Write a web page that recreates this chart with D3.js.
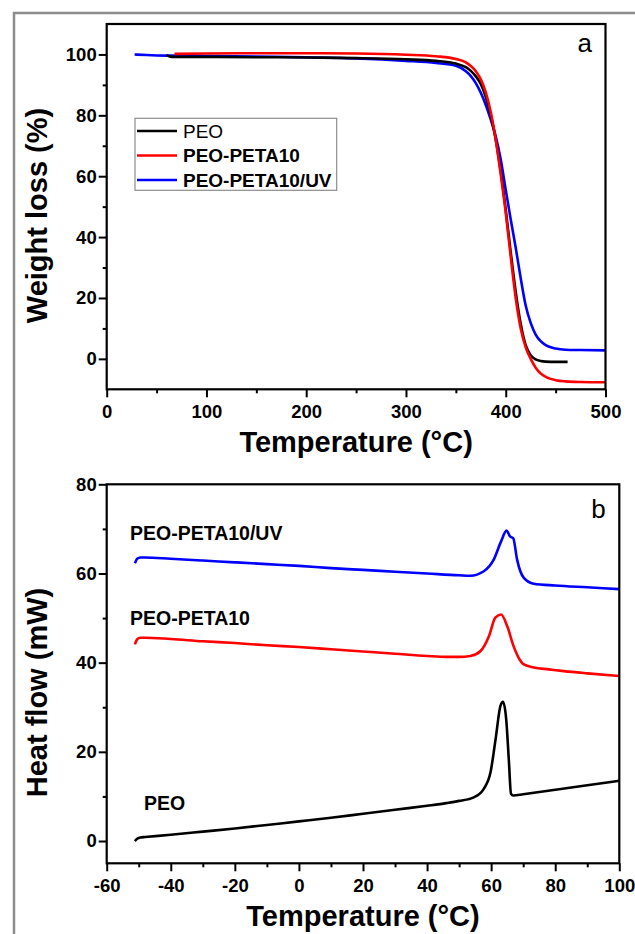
<!DOCTYPE html>
<html>
<head>
<meta charset="utf-8">
<script src="https://cdn.jsdelivr.net/npm/d3@7"></script>
<style>
  body { margin: 0; background: #fff; }
  text { font-family: "Liberation Sans", Arial, sans-serif; }
</style>
</head>
<body>
<div id="chart"></div>
<script>
// SVG height and width
var svgWidth = 635;
var svgHeight = 934;

// ---- Panel a : TGA data ----
var tgaPeoTemp = [60, 65, 100, 150, 200, 250, 300, 330, 350, 360, 365, 370, 375, 380, 385, 390, 395, 400, 405, 410, 415, 420, 425, 430, 435, 440, 450, 462];
var tgaPeoVal = [99.8, 99.2, 99.2, 99.1, 99.0, 98.8, 98.4, 97.9, 97.0, 95.8, 94.6, 92.8, 90.3, 86.0, 80.0, 72.0, 61.5, 49.0, 35.0, 22.0, 11.5, 4.5, 1.2, -0.2, -0.7, -0.9, -1.0, -1.0];

var tgaPetaTemp = [68, 100, 150, 200, 250, 300, 330, 350, 360, 365, 370, 375, 380, 385, 390, 395, 400, 405, 410, 415, 420, 425, 430, 435, 440, 450, 460, 475, 500];
var tgaPetaVal = [100.2, 100.3, 100.4, 100.4, 100.3, 99.9, 99.4, 98.5, 97.4, 96.2, 94.5, 91.8, 87.5, 81.0, 72.0, 60.5, 48.0, 33.5, 20.0, 10.0, 3.8, 0.0, -2.9, -4.8, -5.9, -7.0, -7.4, -7.6, -7.7];

var tgaUvTemp = [28, 40, 60, 100, 150, 200, 250, 300, 330, 350, 360, 365, 370, 375, 380, 385, 390, 395, 400, 405, 410, 415, 420, 425, 430, 435, 440, 450, 460, 475, 500];
var tgaUvVal = [100.0, 99.8, 99.6, 99.5, 99.3, 99.1, 98.7, 97.9, 97.2, 96.3, 94.5, 92.9, 90.6, 87.4, 83.4, 78.6, 73.0, 65.5, 55.5, 45.8, 36.5, 26.5, 17.5, 11.8, 8.0, 5.8, 4.5, 3.4, 3.0, 2.9, 2.8];

// ---- Panel b : DSC data ----
var dscPeoTemp = [-51.2, -50.5, -49.5, -48, -40, -30, -20, -10, 0, 10, 20, 30, 40, 46, 50, 54.6, 57.7, 59.8, 61.4, 62.9, 63.7, 64.7, 65.5, 66.2, 66.9, 70, 80, 90, 100];
var dscPeoVal = [0, 0.5, 0.8, 0.9, 1.4, 2.1, 2.8, 3.6, 4.4, 5.2, 6.1, 7.0, 7.9, 8.5, 9.0, 9.8, 11.7, 15.4, 22.9, 30.3, 31.2, 27.3, 18.4, 10.6, 10.2, 10.5, 11.5, 12.5, 13.5];

var dscPetaTemp = [-51.2, -50.5, -49.5, -48, -40, -30, -20, -10, 0, 10, 20, 30, 40, 46, 50, 53.5, 56.7, 59.3, 61.3, 63.1, 65, 67, 68.5, 70.2, 73.3, 78, 82.7, 90, 100];
var dscPetaVal = [44.1, 45.2, 45.6, 45.6, 45.3, 44.8, 44.4, 43.9, 43.5, 43.0, 42.5, 42.0, 41.5, 41.3, 41.3, 41.5, 42.6, 45.9, 50.1, 50.8, 48.2, 43.7, 41.2, 39.6, 38.9, 38.5, 38.1, 37.6, 37.0];

var dscUvTemp = [-51.2, -50.5, -49.5, -48, -40, -30, -20, -10, 0, 10, 20, 30, 40, 50, 53.5, 57.7, 60.8, 63.1, 64.8, 65.4, 65.8, 66.9, 68.1, 70.2, 73.3, 80, 90, 100];
var dscUvVal = [62.3, 63.3, 63.6, 63.6, 63.3, 62.9, 62.5, 62.1, 61.7, 61.2, 60.8, 60.4, 60.0, 59.6, 59.5, 60.5, 63.1, 67.2, 69.6, 69.0, 68.4, 67.9, 63.1, 59.0, 57.7, 57.3, 56.9, 56.5];

// Legend / labels
var legendNames = ["PEO", "PEO-PETA10", "PEO-PETA10/UV"];
var seriesColors = ["#000000", "#ff0000", "#0000ff"];

var fontFamily = '"Liberation Sans", Arial, sans-serif';

// SVG wrapper
var svg = d3.select("#chart")
  .append("svg")
  .attr("width", svgWidth)
  .attr("height", svgHeight);

svg.append("rect")
  .attr("width", svgWidth)
  .attr("height", svgHeight)
  .attr("fill", "#fff");

// Gray outer frame (runs off right and bottom edges)
svg.append("rect")
  .attr("x", 14)
  .attr("y", 13)
  .attr("width", 700)
  .attr("height", 1000)
  .attr("fill", "none")
  .attr("stroke", "#8c8c8c")
  .attr("stroke-width", 2.5);

// plain hyphen for negative numbers
var plainFormat = d => String(d);

// Draw one framed panel with axes, returns scales
function drawPanel(p) {
  var g = svg.append("g");

  var x = d3.scaleLinear().domain(p.xDomain).range([p.left, p.right]);
  var y = d3.scaleLinear().domain(p.yDomain).range([p.bottom, p.top]);

  // minor ticks
  g.append("g")
    .attr("transform", `translate(0, ${p.bottom})`)
    .call(d3.axisBottom(x).tickValues(p.xMinor).tickSize(4).tickSizeOuter(0).tickFormat(""))
    .call(a => a.select(".domain").remove());
  g.append("g")
    .attr("transform", `translate(${p.left}, 0)`)
    .call(d3.axisLeft(y).tickValues(p.yMinor).tickSize(4).tickSizeOuter(0).tickFormat(""))
    .call(a => a.select(".domain").remove());

  // major ticks
  var xAxis = g.append("g")
    .attr("transform", `translate(0, ${p.bottom})`)
    .call(d3.axisBottom(x).tickValues(p.xTicks).tickFormat(plainFormat).tickSize(8).tickPadding(7.5).tickSizeOuter(0))
    .call(a => a.select(".domain").remove());
  var yAxis = g.append("g")
    .attr("transform", `translate(${p.left}, 0)`)
    .call(d3.axisLeft(y).tickValues(p.yTicks).tickFormat(plainFormat).tickSize(8).tickPadding(2).tickSizeOuter(0))
    .call(a => a.select(".domain").remove());

  [xAxis, yAxis].forEach(function(a) {
    a.selectAll("text")
      .attr("fill", "#000")
      .style("font-family", fontFamily)
      .style("font-size", "18.5px")
      .style("font-weight", "bold");
  });
  g.selectAll("line").attr("stroke", "#000").attr("stroke-width", 2);

  // Axis titles
  g.append("text")
    .attr("x", (p.left + p.right) / 2)
    .attr("y", p.xTitleY)
    .attr("text-anchor", "middle")
    .style("font-size", "29px")
    .style("font-weight", "bold")
    .text("Temperature (°C)");

  g.append("text")
    .attr("transform", `translate(47, ${p.yTitleCenter}) rotate(-90)`)
    .attr("text-anchor", "middle")
    .style("font-size", "29px")
    .style("font-weight", "bold")
    .text(p.yTitle);

  // Panel letter
  g.append("text")
    .attr("x", p.right - 28)
    .attr("y", p.letterY)
    .style("font-size", "26px")
    .text(p.letter);

  var plot = g.append("g");

  // Frame drawn last, over the curves
  g.append("rect")
    .attr("x", p.left)
    .attr("y", p.top)
    .attr("width", p.right - p.left)
    .attr("height", p.bottom - p.top)
    .attr("fill", "none")
    .attr("stroke", "#000")
    .attr("stroke-width", 2.2);

  return { x: x, y: y, plot: plot };
}

function drawLine(panel, temps, vals, color) {
  var pts = temps.map((t, i) => [t, vals[i]]);
  var line = d3.line()
    .x(d => panel.x(d[0]))
    .y(d => panel.y(d[1]))
    .curve(d3.curveMonotoneX);
  panel.plot.append("path")
    .datum(pts)
    .attr("d", line)
    .attr("fill", "none")
    .attr("stroke", color)
    .attr("stroke-width", 2.6)
    .attr("stroke-linejoin", "round");
}

// ---- Panel a ----
var panelA = drawPanel({
  left: 106.7, right: 605.5, top: 24, bottom: 389.3,
  xDomain: [0, 500], yDomain: [-10, 110],
  xTicks: [0, 100, 200, 300, 400, 500], xMinor: [50, 150, 250, 350, 450],
  yTicks: [0, 20, 40, 60, 80, 100], yMinor: [10, 30, 50, 70, 90],
  xTitleY: 452, yTitleCenter: 215.5, yTitle: "Weight loss (%)",
  letter: "a", letterY: 52
});

drawLine(panelA, tgaUvTemp, tgaUvVal, seriesColors[2]);
drawLine(panelA, tgaPeoTemp, tgaPeoVal, seriesColors[0]);
drawLine(panelA, tgaPetaTemp, tgaPetaVal, seriesColors[1]);

// Legend
var legend = svg.append("g");
legend.append("rect")
  .attr("x", 135).attr("y", 118.3)
  .attr("width", 201.7).attr("height", 72)
  .attr("fill", "#fff")
  .attr("stroke", "#8c8c8c")
  .attr("stroke-width", 1.2);

legendNames.forEach(function(name, i) {
  var ly = 131 + i * 24.5;
  legend.append("line")
    .attr("x1", 137).attr("x2", 177)
    .attr("y1", ly).attr("y2", ly)
    .attr("stroke", seriesColors[i])
    .attr("stroke-width", 2.6);
  legend.append("text")
    .attr("x", 183)
    .attr("y", ly + 6.5)
    .style("font-size", "19px")
    .style("font-weight", i === 0 ? "normal" : "bold")
    .text(name);
});

// ---- Panel b ----
var panelB = drawPanel({
  left: 106.7, right: 619.3, top: 484.3, bottom: 863.3,
  xDomain: [-60, 100], yDomain: [-5, 80],
  xTicks: [-60, -40, -20, 0, 20, 40, 60, 80, 100], xMinor: [-50, -30, -10, 10, 30, 50, 70, 90],
  yTicks: [0, 20, 40, 60, 80], yMinor: [10, 30, 50, 70],
  xTitleY: 926, yTitleCenter: 692.5, yTitle: "Heat flow (mW)",
  letter: "b", letterY: 518.3
});

drawLine(panelB, dscPeoTemp, dscPeoVal, seriesColors[0]);
drawLine(panelB, dscPetaTemp, dscPetaVal, seriesColors[1]);
drawLine(panelB, dscUvTemp, dscUvVal, seriesColors[2]);

// Curve labels in panel b
var curveLabels = [
  { text: "PEO-PETA10/UV", x: 130, y: 540 },
  { text: "PEO-PETA10", x: 130, y: 625 },
  { text: "PEO", x: 144, y: 810 }
];
svg.selectAll(".curve-label")
  .data(curveLabels)
  .enter()
  .append("text")
  .attr("class", "curve-label")
  .attr("x", d => d.x)
  .attr("y", d => d.y)
  .style("font-size", "19.5px")
  .style("font-weight", "bold")
  .text(d => d.text);
</script>
</body>
</html>
